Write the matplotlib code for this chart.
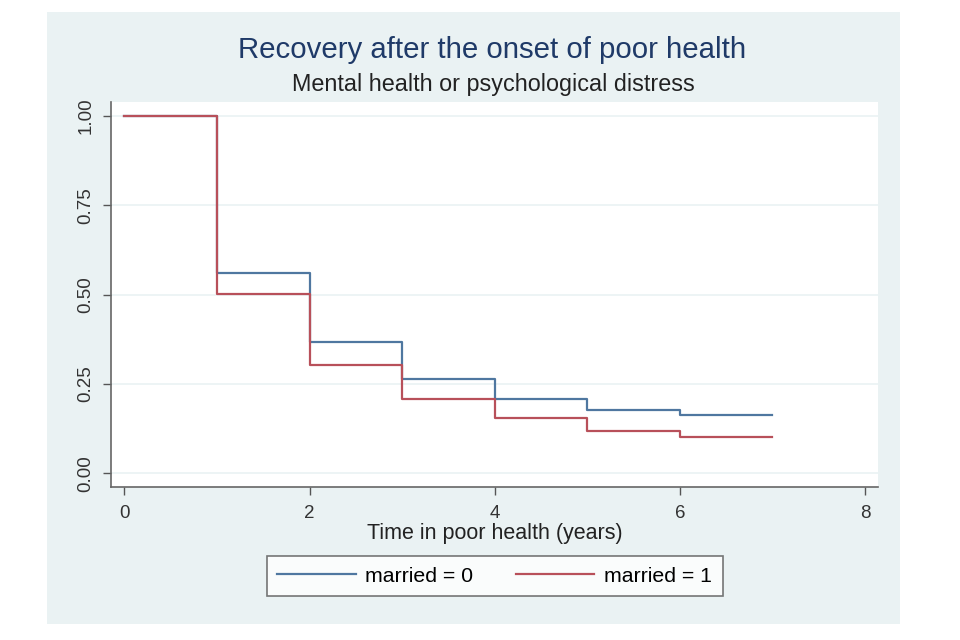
import numpy as np
import matplotlib.pyplot as plt
from matplotlib.patches import Rectangle

# Kaplan-Meier style step estimates
years = [0, 1, 2, 3, 4, 5, 6, 7]
married0 = [1.00, 0.562, 0.368, 0.265, 0.209, 0.177, 0.163, 0.163]
married1 = [1.00, 0.503, 0.302, 0.207, 0.155, 0.118, 0.102, 0.102]
xticks = [0, 2, 4, 6, 8]
yticks = [0.00, 0.25, 0.50, 0.75, 1.00]

plt.rcParams['font.family'] = ['Liberation Sans', 'DejaVu Sans']

bg = '#eaf2f3'
blue = '#4f77a0'
red = '#b8505a'

fig = plt.figure(figsize=(9.6, 6.4), dpi=100)
fig.patches.append(Rectangle((47/960, 1-624/640), 853/960, 612/640,
                             transform=fig.transFigure, facecolor=bg,
                             edgecolor='none', zorder=-5))

ax = fig.add_axes([111/960, 1-487/640, 767/960, 385/640])
ax.set_facecolor('white')
ax.step(years, married0, where='post', color=blue, lw=1.6, label='married = 0')
ax.step(years, married1, where='post', color=red, lw=1.6, label='married = 1')

ax.set_xlim(-0.144, 8.14)
ax.set_ylim(-0.038, 1.039)
ax.set_xticks(xticks)
ax.set_yticks(yticks)
ax.set_yticklabels(['%.2f' % v for v in yticks], rotation=90, va='center')
ax.tick_params(labelsize=13.5, length=6, width=1, direction='out')
ax.tick_params(axis='x', colors='#555555', labelcolor='#333333', pad=7)
ax.tick_params(axis='y', colors='#555555', labelcolor='#333333', pad=6)
ax.grid(axis='y', color=bg, lw=1.2)
ax.set_axisbelow(True)
for s in ['top', 'right']:
    ax.spines[s].set_visible(False)
for s in ['left', 'bottom']:
    ax.spines[s].set_color('#666666')
    ax.spines[s].set_linewidth(1.2)

ax.set_xlabel('Time in poor health (years)', fontsize=15.5, color='#222222', labelpad=1)

fig.text(492/960, 1-50/640, 'Recovery after the onset of poor health',
         ha='center', va='center', fontsize=21.2, color='#1f3a68')
fig.text(493/960, 1-85/640, 'Mental health or psychological distress',
         ha='center', va='center', fontsize=16.8, color='#222222')

leg = fig.legend(loc='center', bbox_to_anchor=(494.5/960, 1-576/640), ncol=2,
                 fontsize=15.3, frameon=True, fancybox=False, handlelength=3.7,
                 handletextpad=0.45, columnspacing=2.0, borderpad=0.5,
                 borderaxespad=0)
leg.get_frame().set_edgecolor('#555555')
leg.get_frame().set_linewidth(1.2)

fig.savefig('out.png', dpi=100, facecolor='white')
